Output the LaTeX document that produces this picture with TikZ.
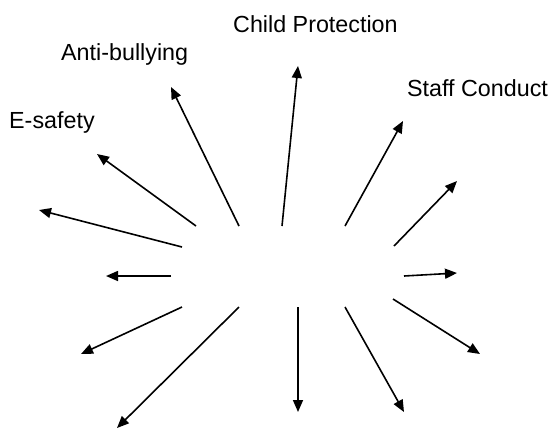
\documentclass[tikz,border=0pt]{standalone}
\usepackage{fontspec}
\setmainfont{Liberation Sans}
\usetikzlibrary{arrows.meta}
\begin{document}
\begin{tikzpicture}[x=1pt,y=-1pt,
  ray/.style={line width=1.6pt,-{Triangle[length=12pt,width=10pt]}},
  lbl/.style={anchor=base west,inner sep=0pt,font=\fontsize{23.3}{28}\selectfont}]
\useasboundingbox (0,0) rectangle (553,429);
% labels
\node[lbl] (cp) at (233,32) {Child Protection};
\node[lbl] (ab) at (61,60) {Anti-bullying};
\node[lbl] (sc) at (407,96) {Staff Conduct};
\node[lbl] (es) at (9,128) {E-safety};
% ray ends
\coordinate (s1) at (182,247);  \coordinate (t1) at (39,210);
\coordinate (s2) at (196,226);  \coordinate (t2) at (97,154);
\coordinate (s3) at (239,226);  \coordinate (t3) at (171,87);
\coordinate (s4) at (282,226);  \coordinate (t4) at (298,66);
\coordinate (s5) at (345,226);  \coordinate (t5) at (403,121);
\coordinate (s6) at (394,246);  \coordinate (t6) at (457,181);
\coordinate (s7) at (404,276);  \coordinate (t7) at (457,273);
\coordinate (s8) at (393,299);  \coordinate (t8) at (480,354);
\coordinate (s9) at (345,307);  \coordinate (t9) at (404,412);
\coordinate (s10) at (298,307); \coordinate (t10) at (298,412);
\coordinate (s11) at (239,307); \coordinate (t11) at (117,428);
\coordinate (s12) at (182,307); \coordinate (t12) at (81,354);
\coordinate (s13) at (171,276); \coordinate (t13) at (106,276);
\foreach \i in {1,...,13} {\draw[ray] (s\i) -- (t\i);}
\end{tikzpicture}
\end{document}
